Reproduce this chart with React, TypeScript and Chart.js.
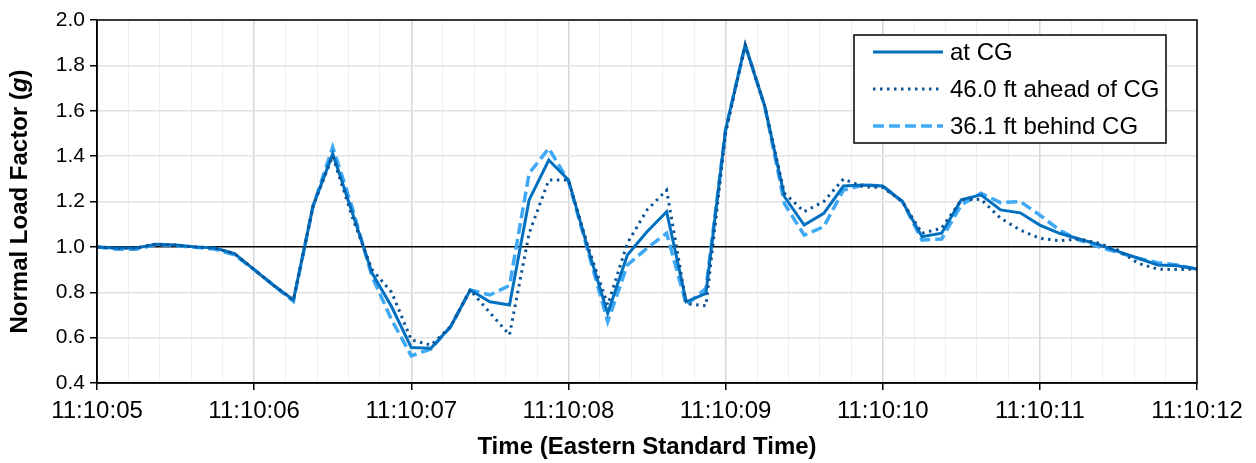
import React, { useEffect, useRef } from "react";
import { Chart, registerables } from "chart.js";

Chart.register(...registerables);

// ---- data ----
const secondsAfterStart = [
  0, 0.125, 0.25, 0.375, 0.5, 0.625, 0.75, 0.875,
  1, 1.125, 1.25, 1.375, 1.5, 1.625, 1.75, 1.875,
  2, 2.125, 2.25, 2.375, 2.5, 2.625, 2.75, 2.875,
  3, 3.125, 3.25, 3.375, 3.5, 3.625, 3.75, 3.875,
  4, 4.125, 4.25, 4.375, 4.5, 4.625, 4.75, 4.875,
  5, 5.125, 5.25, 5.375, 5.5, 5.625, 5.75, 5.875,
  6, 6.125, 6.25, 6.375, 6.5, 6.625, 6.75, 6.875,
  7,
];

const atCG = [
  1.0, 0.995, 0.995, 1.012, 1.008, 1.0, 0.995, 0.97,
  0.9, 0.83, 0.766, 1.18, 1.41, 1.15, 0.885, 0.736,
  0.556, 0.553, 0.648, 0.81, 0.758, 0.744, 1.207, 1.383,
  1.295, 0.99, 0.707, 0.964, 1.067, 1.155, 0.758, 0.795,
  1.515, 1.89, 1.618, 1.221, 1.096, 1.148, 1.268, 1.273,
  1.268, 1.2, 1.045, 1.06, 1.207, 1.229, 1.163, 1.15,
  1.096, 1.06, 1.035, 1.01, 0.979, 0.95, 0.92, 0.917,
  0.902,
];

const ahead46 = [
  1.0, 0.995, 0.995, 1.012, 1.008, 1.0, 0.995, 0.97,
  0.9, 0.83, 0.766, 1.18, 1.4, 1.13, 0.9, 0.8,
  0.59, 0.567, 0.648, 0.81, 0.71, 0.612, 1.06, 1.295,
  1.295, 1.0, 0.744, 1.016, 1.163, 1.25, 0.75, 0.74,
  1.5, 1.89, 1.618, 1.236, 1.155, 1.2, 1.299, 1.265,
  1.262, 1.2, 1.06, 1.082, 1.207, 1.21, 1.126, 1.074,
  1.038, 1.027, 1.035, 1.016, 0.985, 0.928, 0.902, 0.9,
  0.902,
];

const behind36 = [
  1.0, 0.99, 0.99, 1.01, 1.005, 0.998, 0.99, 0.965,
  0.9, 0.83, 0.76, 1.18, 1.44, 1.17, 0.87, 0.678,
  0.52, 0.55, 0.648, 0.81, 0.788, 0.83, 1.324, 1.434,
  1.29, 0.98, 0.67, 0.92, 0.994, 1.06, 0.744, 0.817,
  1.515, 1.89, 1.618, 1.19, 1.052, 1.089, 1.25, 1.273,
  1.268, 1.2, 1.03, 1.035, 1.185, 1.236, 1.195, 1.2,
  1.14, 1.074, 1.03, 1.0, 0.975, 0.95, 0.93, 0.92,
  0.902,
];

const timeLabels = [
  "11:10:05", "11:10:06", "11:10:07", "11:10:08",
  "11:10:09", "11:10:10", "11:10:11", "11:10:12",
];

const seriesNames = ["at CG", "46.0 ft ahead of CG", "36.1 ft behind CG"];
const yTitleParts = ["Normal Load Factor (", "g", ")"];
const xTitle = "Time (Eastern Standard Time)";

// ---- styles ----
const FONT = "'Liberation Sans', Arial, sans-serif";
const C_SOLID = "#0070C0";
const C_DOT = "#0B5394";
const C_DASH = "#3FA9F5";

const W = 1256;
const H = 463;

const isMajor = (v: number) => Math.abs(v - Math.round(v)) < 1e-6;

const overlayPlugin = {
  id: "overlay",
  afterDraw(chart: any) {
    const ctx = chart.ctx as CanvasRenderingContext2D;
    const a = chart.chartArea;
    ctx.save();
    // plot border
    ctx.strokeStyle = "#000";
    ctx.lineWidth = 1.5;
    ctx.strokeRect(a.left, a.top, a.right - a.left, a.bottom - a.top);

    // x title
    ctx.fillStyle = "#000";
    ctx.font = `bold 24px ${FONT}`;
    ctx.textAlign = "center";
    ctx.textBaseline = "middle";
    ctx.fillText(xTitle, (a.left + a.right) / 2, 447);

    // y title (with italic g)
    ctx.save();
    ctx.translate(20, (a.top + a.bottom) / 2);
    ctx.rotate(-Math.PI / 2);
    const fonts = [
      `bold 24px ${FONT}`,
      `italic bold 24px ${FONT}`,
      `bold 24px ${FONT}`,
    ];
    const widths = yTitleParts.map((p, i) => {
      ctx.font = fonts[i];
      return ctx.measureText(p).width;
    });
    const total = widths.reduce((s, w) => s + w, 0);
    let x = -total / 2;
    ctx.textAlign = "left";
    yTitleParts.forEach((p, i) => {
      ctx.font = fonts[i];
      ctx.fillText(p, x, 0);
      x += widths[i];
    });
    ctx.restore();

    // legend
    const lx = 854, ly = 35, lw = 312, lh = 108;
    ctx.fillStyle = "#fff";
    ctx.fillRect(lx, ly, lw, lh);
    ctx.strokeStyle = "#000";
    ctx.lineWidth = 1.5;
    ctx.strokeRect(lx, ly, lw, lh);
    const rows = [52, 89, 126];
    const styles = [
      { color: C_SOLID, dash: [] as number[], width: 3, cap: "butt" },
      { color: C_DOT, dash: [2.5, 4.5], width: 3, cap: "butt" },
      { color: C_DASH, dash: [11, 5], width: 3.5, cap: "butt" },
    ];
    rows.forEach((ry, i) => {
      const s = styles[i];
      ctx.beginPath();
      ctx.strokeStyle = s.color;
      ctx.lineWidth = s.width;
      ctx.setLineDash(s.dash);
      ctx.lineCap = s.cap as CanvasLineCap;
      ctx.moveTo(873, ry);
      ctx.lineTo(943, ry);
      ctx.stroke();
      ctx.setLineDash([]);
      ctx.fillStyle = "#000";
      ctx.font = `24px ${FONT}`;
      ctx.textAlign = "left";
      ctx.textBaseline = "middle";
      ctx.fillText(seriesNames[i], 950, ry + 1);
    });
    ctx.restore();
  },
};

export default function App() {
  const ref = useRef<HTMLCanvasElement | null>(null);

  useEffect(() => {
    if (!ref.current) return;
    const toPts = (vals: number[]) =>
      vals.map((v, i) => ({ x: secondsAfterStart[i], y: v }));

    const chart = new Chart(ref.current, {
      type: "line",
      data: {
        datasets: [
          {
            label: seriesNames[1],
            data: toPts(ahead46),
            borderColor: C_DOT,
            borderWidth: 3,
            borderDash: [2.5, 4.5],
            pointRadius: 0,
            tension: 0,
            fill: false,
          },
          {
            label: seriesNames[0],
            data: toPts(atCG),
            borderColor: C_SOLID,
            borderWidth: 3,
            pointRadius: 0,
            tension: 0,
            fill: false,
          },
          {
            label: seriesNames[2],
            data: toPts(behind36),
            borderColor: C_DASH,
            borderWidth: 3.5,
            borderDash: [11, 5],
            pointRadius: 0,
            tension: 0,
            fill: false,
          },
        ],
      },
      options: {
        responsive: false,
        animation: false,
        layout: { padding: { top: 20, right: W - 1197, left: 0, bottom: 0 } },
        plugins: {
          legend: { display: false },
          tooltip: { enabled: false },
        },
        scales: {
          x: {
            type: "linear",
            min: 0,
            max: 7,
            afterFit: (s: any) => {
              s.height = H - 383;
            },
            ticks: {
              stepSize: 0.2,
              autoSkip: false,
              maxRotation: 0,
              padding: 7,
              color: "#000",
              font: { family: FONT, size: 24 },
              callback: (v: any) =>
                isMajor(Number(v)) ? timeLabels[Math.round(Number(v))] : "",
            },
            grid: {
              color: (c: any) =>
                isMajor(c.tick?.value ?? 0) ? "#D6D6D6" : "#EEEEEE",
              lineWidth: (c: any) => (isMajor(c.tick?.value ?? 0) ? 1.5 : 1),
              tickLength: 7,
              tickColor: (c: any) =>
                isMajor(c.tick?.value ?? 0) ? "#000" : "rgba(0,0,0,0)",
              tickWidth: 1.5,
            },
            border: { color: "#000", width: 1.5 },
          },
          y: {
            min: 0.4,
            max: 2.0,
            afterFit: (s: any) => {
              s.width = 97;
            },
            ticks: {
              stepSize: 0.2,
              padding: 5,
              color: "#000",
              font: { family: FONT, size: 21 },
              callback: (v: any) => Number(v).toFixed(1),
            },
            grid: {
              color: (c: any) =>
                Math.abs((c.tick?.value ?? 0) - 1) < 1e-6 ? "#000" : "#E2E2E2",
              lineWidth: 1.5,
              tickLength: 7,
              tickColor: "#000",
              tickWidth: 1.5,
            },
            border: { color: "#000", width: 1.5 },
          },
        },
      },
      plugins: [overlayPlugin],
    });
    return () => chart.destroy();
  }, []);

  return (
    <div
      style={{
        position: "absolute",
        left: 0,
        top: 0,
        width: W,
        height: H,
        background: "#fff",
      }}
    >
      <canvas ref={ref} width={W} height={H} />
    </div>
  );
}
